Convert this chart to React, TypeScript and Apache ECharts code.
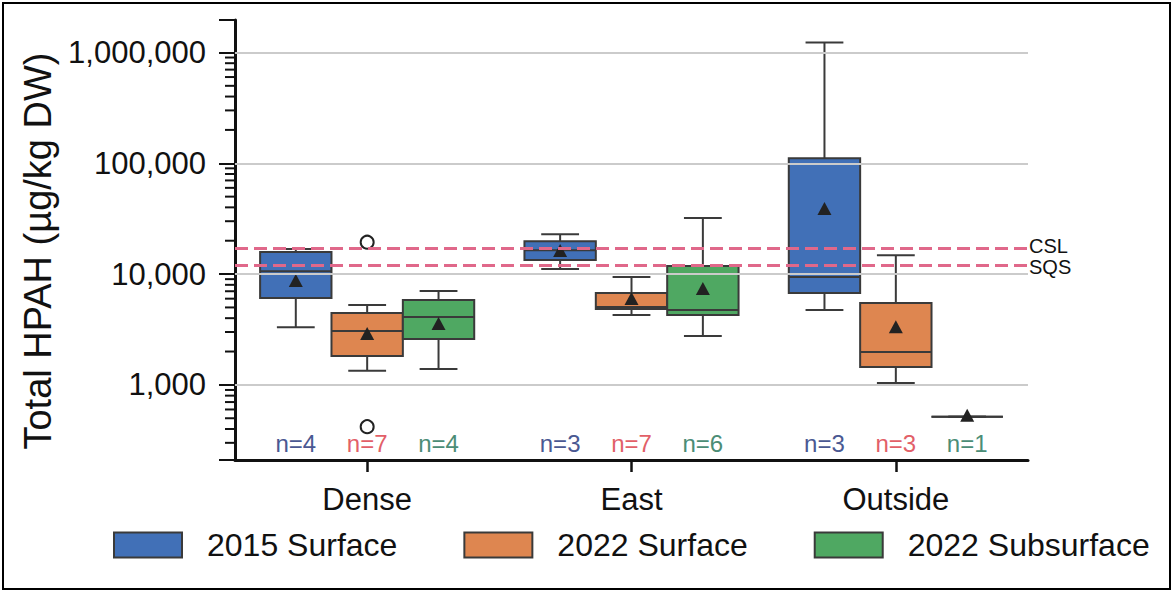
import React, { useEffect, useRef } from 'react';
import * as echarts from 'echarts';

// ---------- data ----------
const categories = ['Dense', 'East', 'Outside'];
const seriesNames = ['2015 Surface', '2022 Surface', '2022 Subsurface'];
const seriesColors = ['#4170b7', '#de8650', '#4fa862'];
const countColors = ['#4a5892', '#e25f68', '#4b8d76'];

// [min, Q1, median, Q3, max] for each category
const box2015Surface = [
  [3320, 6080, 10600, 15800, 16800],
  [11100, 13400, 16400, 19800, 22900],
  [4740, 6750, 9400, 111000, 1230000],
];
const box2022Surface = [
  [1340, 1820, 3060, 4460, 5250],
  [4270, 4840, 5050, 6750, 9400],
  [1040, 1450, 1980, 5480, 14800],
];
const box2022Subsurface = [
  [1390, 2600, 4100, 5840, 7030],
  [2760, 4270, 4740, 11800, 32000],
  [515, 515, 515, 515, 515],
];
const mean2015Surface = [8470, 15800, 37800];
const mean2022Surface = [2820, 5840, 3250];
const mean2022Subsurface = [3470, 7180, 515];

// outliers: [categoryIndex, value] (2022 Surface only)
const outliers2022Surface = [
  [0, 19400],
  [0, 420],
];

const count2015Surface = [4, 3, 3];
const count2022Surface = [7, 7, 3];
const count2022Subsurface = [4, 6, 1];

const guideValues = [17000, 12000];
const guideLabels = ['CSL', 'SQS'];

const majorGridValues = [1000, 10000, 100000, 1000000];
const minorTickValues = [
  300, 400, 500, 600, 700, 800, 900,
  2000, 3000, 4000, 5000, 6000, 7000, 8000, 9000,
  20000, 30000, 40000, 50000, 60000, 70000, 80000, 90000,
  200000, 300000, 400000, 500000, 600000, 700000, 800000, 900000,
];

const Y_MIN = 210;
const Y_MAX = 1963000;

const FONT = "'Liberation Sans', Arial, Helvetica, sans-serif";
const BOX_FRACTION = 0.27;
const EDGE = '#3a3a3a';
const GUIDE_LABEL_SHIFT = [-3, 2];

const boxes = [box2015Surface, box2022Surface, box2022Subsurface];
const means = [mean2015Surface, mean2022Surface, mean2022Subsurface];
const counts = [count2015Surface, count2022Surface, count2022Subsurface];

function makeBoxRender(slot: number, fill: string) {
  return (params: any, api: any) => {
    const cat = api.value(0);
    const band = api.size([1, 0])[0];
    const boxW = band * BOX_FRACTION;
    const cx = api.coord([cat, api.value(3)])[0] + (slot - 1) * boxW;
    const y = (v: number) => api.coord([cat, v])[1];
    const yLo = y(api.value(1));
    const yQ1 = y(api.value(2));
    const yMed = y(api.value(3));
    const yQ3 = y(api.value(4));
    const yHi = y(api.value(5));
    const yMean = y(api.value(6));
    const capW = boxW * 0.53;
    const ls = { stroke: EDGE, lineWidth: 2 };
    return {
      type: 'group',
      children: [
        { type: 'line', shape: { x1: cx, y1: yQ3, x2: cx, y2: yHi }, style: ls },
        { type: 'line', shape: { x1: cx, y1: yQ1, x2: cx, y2: yLo }, style: ls },
        { type: 'line', shape: { x1: cx - capW / 2, y1: yHi, x2: cx + capW / 2, y2: yHi }, style: ls },
        { type: 'line', shape: { x1: cx - capW / 2, y1: yLo, x2: cx + capW / 2, y2: yLo }, style: ls },
        {
          type: 'rect',
          shape: { x: cx - boxW / 2, y: yQ3, width: boxW, height: Math.max(yQ1 - yQ3, 0) },
          style: { fill, stroke: EDGE, lineWidth: 2 },
        },
        { type: 'line', shape: { x1: cx - boxW / 2, y1: yMed, x2: cx + boxW / 2, y2: yMed }, style: ls },
        {
          type: 'polygon',
          shape: { points: [[cx, yMean - 8], [cx - 7, yMean + 5], [cx + 7, yMean + 5]] },
          style: { fill: '#222' },
        },
      ],
    };
  };
}

export default function App() {
  const ref = useRef<HTMLDivElement>(null);

  useEffect(() => {
    if (!ref.current) return;
    const chart = echarts.init(ref.current, undefined, { renderer: 'svg' });

    const boxSeries = seriesNames.map((name, s) => ({
      name,
      type: 'custom',
      clip: false,
      z: 3,
      itemStyle: { color: seriesColors[s] },
      encode: { x: 0, y: [1, 2, 3, 4, 5] },
      renderItem: makeBoxRender(s, seriesColors[s]),
      data: boxes[s].map((b, i) => [i, ...b, means[s][i]]),
    }));

    const outlierSeries = {
      name: 'outliers',
      type: 'custom',
      clip: false,
      z: 4,
      encode: { x: 0, y: 1 },
      renderItem: (params: any, api: any) => {
        const p = api.coord([api.value(0), api.value(1)]);
        return {
          type: 'circle',
          shape: { cx: p[0], cy: p[1], r: 6.5 },
          style: { fill: 'none', stroke: '#222', lineWidth: 2 },
        };
      },
      data: outliers2022Surface,
    };

    const countData: number[][] = [];
    counts.forEach((arr, s) => arr.forEach((n, i) => countData.push([i, s, n])));
    const countSeries = {
      name: 'counts',
      type: 'custom',
      clip: false,
      z: 4,
      encode: { x: 0 },
      renderItem: (params: any, api: any) => {
        const cat = api.value(0);
        const slot = api.value(1);
        const n = api.value(2);
        const band = api.size([1, 0])[0];
        const boxW = band * BOX_FRACTION;
        const p = api.coord([cat, Y_MIN]);
        return {
          type: 'text',
          style: {
            text: 'n=' + n,
            x: p[0] + (slot - 1) * boxW,
            y: p[1] - 17,
            fill: countColors[slot],
            fontSize: 24,
            fontFamily: FONT,
            align: 'center',
            verticalAlign: 'middle',
          },
        };
      },
      data: countData,
    };

    const minorTickSeries = {
      name: 'minorTicks',
      type: 'custom',
      clip: false,
      z: 5,
      encode: { x: 0, y: 1 },
      renderItem: (params: any, api: any) => {
        const band = api.size([1, 0])[0];
        const p = api.coord([0, api.value(1)]);
        const x0 = p[0] - band / 2;
        return {
          type: 'line',
          shape: { x1: x0 - 10, y1: p[1], x2: x0, y2: p[1] },
          style: { stroke: '#111', lineWidth: 2 },
        };
      },
      data: minorTickValues.map((v) => [0, v]),
    };

    const gridSeries = {
      name: 'grid',
      type: 'line',
      z: 1,
      silent: true,
      data: [],
      markLine: {
        silent: true,
        symbol: ['none', 'none'],
        label: { show: false },
        lineStyle: { color: '#cbcbcb', width: 2, type: 'solid' },
        data: majorGridValues.map((v) => ({ yAxis: v })),
      },
    };

    const guideSeries = {
      name: 'guides',
      type: 'line',
      z: 6,
      silent: true,
      data: [],
      markLine: {
        silent: true,
        z: 6,
        symbol: ['none', 'none'],
        lineStyle: { color: '#e0688a', width: 3, type: [13, 6] },
        label: {
          show: true,
          position: 'end',
          formatter: '{b}',
          distance: 1,
          color: '#111',
          fontSize: 20,
          lineHeight: 15,
          fontFamily: FONT,
        },
        data: guideValues.map((v, i) => ({
          yAxis: v,
          name: guideLabels[i],
          label: { offset: [0, GUIDE_LABEL_SHIFT[i]] },
        })),
      },
    };

    chart.setOption({
      animation: false,
      backgroundColor: '#ffffff',
      textStyle: { fontFamily: FONT },
      graphic: [
        {
          type: 'rect',
          shape: { x: 3, y: 3, width: 1167, height: 586 },
          style: { fill: 'none', stroke: '#000', lineWidth: 2 },
          z: 100,
        },
      ],
      grid: { left: 235, right: 145, top: 20, bottom: 132, containLabel: false },
      legend: {
        left: 113,
        top: 529,
        padding: 0,
        itemGap: 66,
        itemWidth: 68,
        itemHeight: 25,
        icon: 'rect',
        selectedMode: false,
        textStyle: { fontSize: 32, color: '#111', fontFamily: FONT, padding: [0, 0, 0, 20] },
        data: seriesNames.map((name, s) => ({
          name,
          icon: 'rect',
          itemStyle: { color: seriesColors[s], borderColor: EDGE, borderWidth: 2 },
        })),
      },
      xAxis: {
        type: 'category',
        data: categories,
        boundaryGap: true,
        axisLine: { show: true, lineStyle: { color: '#111', width: 3 } },
        axisTick: { show: true, alignWithLabel: true, length: 12, lineStyle: { color: '#111', width: 2.5 } },
        axisLabel: { fontSize: 31, color: '#111', margin: 24, fontFamily: FONT },
        splitLine: { show: false },
      },
      yAxis: {
        type: 'log',
        logBase: 10,
        min: Y_MIN,
        max: Y_MAX,
        name: 'Total HPAH (µg/kg DW)',
        nameLocation: 'middle',
        nameRotate: 90,
        nameGap: 178,
        nameTextStyle: { fontSize: 38, color: '#111', fontFamily: FONT, padding: [0, 22, 0, 0] },
        axisLine: { show: true, lineStyle: { color: '#111', width: 3 } },
        axisTick: { show: true, length: 16, lineStyle: { color: '#111', width: 2 } },
        axisLabel: {
          fontSize: 31,
          color: '#111',
          margin: 29,
          fontFamily: FONT,
          formatter: (v: number) => {
            const l = Math.log10(v);
            if (Math.abs(l - Math.round(l)) > 1e-6) return '';
            return Math.round(v).toLocaleString('en-US');
          },
        },
        splitLine: { show: false },
      },
      series: [gridSeries, ...boxSeries, outlierSeries, countSeries, minorTickSeries, guideSeries],
    });

    return () => chart.dispose();
  }, []);

  return (
    <div
      ref={ref}
      style={{ position: 'fixed', left: 0, top: 0, width: 1173, height: 592, background: '#fff' }}
    />
  );
}
